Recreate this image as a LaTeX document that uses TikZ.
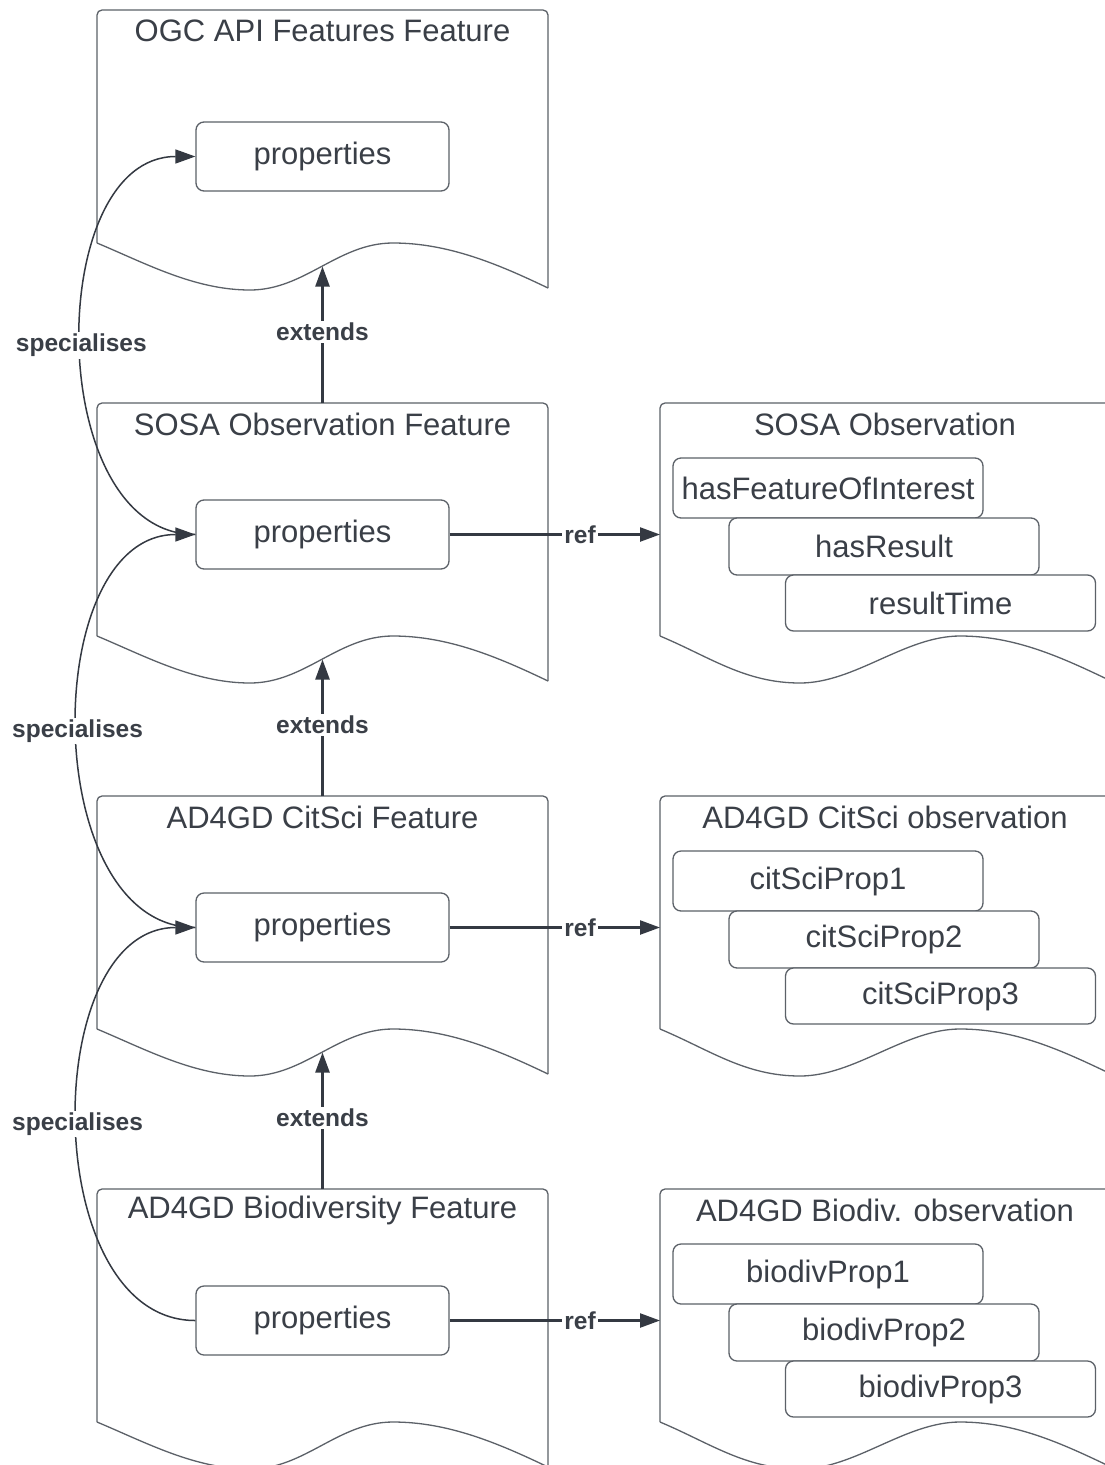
\documentclass[tikz,border=0pt]{standalone}
\usepackage{fontspec}
\setmainfont{Liberation Sans}
\usetikzlibrary{arrows.meta}
\definecolor{txt}{RGB}{58,63,71}
\definecolor{linec}{RGB}{92,97,104}
\definecolor{arrc}{RGB}{52,57,66}
% #1 left x, #2 top y, #3 offset of wave trough, #4 offset of wave crest
\newcommand{\docshape}[4]{%
  \draw[docline, rounded corners=5pt] ({#1+451},{#2+278}) -- ({#1+451},{#2}) -- ({#1},{#2}) -- ({#1},{#2+233});
  \draw[docline] ({#1},{#2+233}) .. controls ({#1+50},{#2+254}) and ({#1+#3-55},{#2+280}) .. ({#1+#3},{#2+280})
     .. controls ({#1+#3+55},{#2+280}) and ({#1+#4-55},{#2+233}) .. ({#1+#4},{#2+233})
     .. controls ({#1+#4+55},{#2+233}) and ({#1+401},{#2+254}) .. ({#1+451},{#2+278});
}
\begin{document}
\begin{tikzpicture}[x=1pt,y=-1pt,
  every node/.style={text=txt},
  docline/.style={draw=linec, line width=1.3pt},
  prop/.style={draw=linec, line width=1.3pt, rounded corners=8pt, fill=white, minimum width=253pt, minimum height=69pt, inner sep=0pt, font=\fontsize{31}{37}\selectfont},
  item/.style={draw=linec, line width=1.3pt, rounded corners=8pt, fill=white, inner sep=0pt, minimum width=310pt, font=\fontsize{31}{37}\selectfont},
  ttl/.style={font=\fontsize{31}{37}\selectfont, inner sep=0pt},
  lbl/.style={font=\fontsize{24.5}{29}\selectfont\bfseries, fill=white, inner sep=2pt},
  tip/.style={-{Triangle[length=20pt,width=14pt]}},
  arr/.style={draw=arrc, line width=2.4pt, tip},
  spec/.style={draw=arrc, line width=1.5pt},
]
\fill[white] (0,0) rectangle (1105,1465);
\clip (0,0) rectangle (1105,1465);

% ---- left column documents
\docshape{97}{10}{153}{296}
\docshape{97}{403}{153}{296}
\docshape{97}{796}{153}{296}
\docshape{97}{1189}{153}{296}

\node[ttl] (t1) at (322.5,31) {OGC API Features Feature};
\node[ttl] (t2) at (322.5,424) {SOSA Observation Feature};
\node[ttl] (t3) at (322.5,817) {AD4GD CitSci Feature};
\node[ttl] (t4) at (322.5,1210) {AD4GD Biodiversity Feature};

\node[prop] (p1) at (322.5,156.5) {properties};
\node[prop] (p2) at (322.5,534.5) {properties};
\node[prop] (p3) at (322.5,927.5) {properties};
\node[prop] (p4) at (322.5,1320.5) {properties};

% ---- right column documents
\docshape{660}{403}{140}{300}
\docshape{660}{796}{140}{300}
\docshape{660}{1189}{140}{300}

\node[ttl] (u2) at (885,424) {SOSA Observation};
\node[ttl] (u3) at (885,817) {AD4GD CitSci observation};
\node[ttl] (u4) at (885,1210) {AD4GD Biodiv. observation};

\node[item, minimum height=60pt] (a1) at (828,488) {hasFeatureOfInterest};
\node[item, minimum height=57pt] (a2) at (884,546.5) {hasResult};
\node[item, minimum height=56pt] (a3) at (940.5,603) {resultTime};

\node[item, minimum height=60pt] (b1) at (828,881) {citSciProp1};
\node[item, minimum height=57pt] (b2) at (884,939.5) {citSciProp2};
\node[item, minimum height=56pt] (b3) at (940.5,996) {citSciProp3};

\node[item, minimum height=60pt] (c1) at (828,1274) {biodivProp1};
\node[item, minimum height=57pt] (c2) at (884,1332.5) {biodivProp2};
\node[item, minimum height=56pt] (c3) at (940.5,1389) {biodivProp3};

% ---- anchor points
\coordinate (w1) at (322.5,266.5);
\coordinate (w2) at (322.5,659.5);
\coordinate (w3) at (322.5,1052.5);
\coordinate (d2) at (322.5,403);
\coordinate (d3) at (322.5,796);
\coordinate (d4) at (322.5,1189);
\coordinate (r2) at (660,534.5);
\coordinate (r3) at (660,927.5);
\coordinate (r4) at (660,1320.5);

% ---- extends
\draw[arr] (d2) -- (w1) node[pos=0.52, lbl] {extends};
\draw[arr] (d3) -- (w2) node[pos=0.52, lbl] {extends};
\draw[arr] (d4) -- (w3) node[pos=0.52, lbl] {extends};

% ---- ref
\draw[arr] (p2.east) -- (r2) node[pos=0.62, lbl] {ref};
\draw[arr] (p3.east) -- (r3) node[pos=0.62, lbl] {ref};
\draw[arr] (p4.east) -- (r4) node[pos=0.62, lbl] {ref};

% ---- specialises
\draw[spec, tip] (p2.west) .. controls +(-152,0) and +(-152,0) .. (p1.west) node[pos=0.5, lbl] {specialises};
\draw[spec, tip] (p3.west) .. controls +(-157,0) and +(-157,0) .. (p2.west) node[pos=0.5, lbl] {specialises};
\draw[spec, tip] (p4.west) .. controls +(-157,0) and +(-157,0) .. (p3.west) node[pos=0.5, lbl] {specialises};
\end{tikzpicture}
\end{document}
